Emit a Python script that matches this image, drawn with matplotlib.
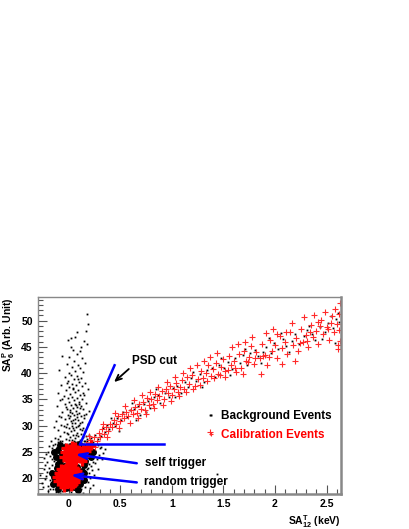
import numpy as np
import matplotlib
matplotlib.use("Agg")
import matplotlib.pyplot as plt
from matplotlib.ticker import MultipleLocator

plt.rcParams['font.family'] = ['Liberation Sans', 'DejaVu Sans']
plt.rcParams['font.weight'] = 'bold'
plt.rcParams['mathtext.fontset'] = 'custom'
plt.rcParams['mathtext.rm'] = 'Liberation Sans:bold'
plt.rcParams['mathtext.it'] = 'Liberation Sans:bold'
plt.rcParams['mathtext.bf'] = 'Liberation Sans:bold'

# background events: vertical column above the clusters
bg_col = [(0.18, 51.2), (0.19, 49.3), (0.17, 48.1), (0.08, 47.8), (0.06, 46.9), (0.02, 46.6),
          (-0.01, 46.3), (0.15, 46.2), (0.18, 45.6), (0.12, 45.0), (0.02, 45.0), (0.04, 44.5),
          (0.11, 44.2), (0.08, 43.6), (-0.06, 43.3), (0.00, 43.0), (0.13, 42.8), (0.05, 42.4),
          (0.16, 42.0), (-0.02, 41.8), (0.09, 41.6), (0.03, 41.2), (0.11, 40.9), (-0.09, 40.6),
          (0.06, 40.4), (0.14, 40.2), (0.00, 40.0),
          (0.02, 39.7), (0.08, 39.5), (-0.04, 39.2), (0.12, 39.0), (0.05, 38.8), (-0.01, 38.6),
          (0.10, 38.4), (0.16, 38.2), (0.03, 38.0), (-0.07, 37.8), (0.07, 37.7), (0.13, 37.5),
          (0.00, 37.3), (0.04, 37.1), (0.19, 37.0), (-0.03, 36.8), (0.09, 36.7), (0.06, 36.4),
          (-0.10, 36.2), (0.01, 36.1), (0.11, 35.9), (0.15, 35.8), (-0.05, 35.6), (0.03, 35.5),
          (0.08, 35.3), (-0.01, 35.2), (0.13, 35.0), (0.05, 34.9), (-0.08, 34.8), (0.10, 34.6),
          (0.00, 34.5), (0.17, 34.4), (0.06, 34.2), (-0.04, 34.1), (0.02, 33.9), (0.12, 33.8),
          (-0.11, 33.7), (0.08, 33.5), (0.04, 33.4), (-0.02, 33.2),
          (0.14, 33.1), (0.01, 33.0), (0.07, 32.8), (-0.06, 32.7), (0.10, 32.5), (0.03, 32.4),
          (0.17, 32.3), (-0.01, 32.1), (0.05, 32.0), (-0.09, 31.9), (0.12, 31.8), (0.08, 31.6),
          (0.00, 31.5), (0.15, 31.4), (-0.04, 31.3), (0.04, 31.1), (0.09, 31.0), (-0.12, 30.9),
          (0.02, 30.8), (0.13, 30.7), (0.06, 30.5), (-0.02, 30.4), (0.19, 30.3), (0.10, 30.2),
          (-0.07, 30.1), (0.03, 29.9), (0.07, 29.8), (-0.03, 29.7), (0.14, 29.6), (0.00, 29.5),
          (0.11, 29.3), (-0.10, 29.2), (0.05, 29.1), (0.16, 29.0), (0.02, 28.9), (-0.05, 28.8),
          (0.08, 28.7), (0.12, 28.5), (-0.01, 28.4), (0.20, 28.3), (0.04, 28.2), (-0.08, 28.1),
          (0.09, 28.0), (0.14, 27.9), (0.01, 27.8), (-0.13, 27.7), (0.06, 27.6), (0.18, 27.5),
          (-0.03, 27.4), (0.11, 27.3), (0.03, 27.2), (-0.06, 27.1), (0.15, 27.0), (0.08, 26.9),
          (-0.10, 26.8), (0.22, 26.7), (0.00, 26.6), (-0.15, 26.4),
          (0.07, 34.0), (-0.03, 33.6), (0.11, 33.3), (0.01, 32.6), (0.15, 32.0), (-0.07, 31.6),
          (0.06, 31.2), (0.11, 30.5), (-0.05, 30.0), (0.04, 29.6), (0.13, 29.2), (-0.02, 28.6),
          (0.07, 28.3), (0.17, 28.0), (-0.10, 27.5), (0.05, 27.0), (0.13, 26.6), (-0.04, 26.5),
          (0.09, 30.0), (0.01, 31.8), (0.10, 34.1), (-0.06, 35.0), (0.14, 36.3), (0.04, 36.9),
          (-0.02, 38.1), (0.09, 38.9), (0.20, 32.8), (-0.14, 29.8), (0.03, 30.6), (0.08, 32.2)]

# background events: sparse halo around the two clusters
bg_halo = [(-0.20, 18.5), (-0.18, 19.6), (-0.22, 20.4), (-0.17, 21.3), (-0.19, 22.0), (-0.15, 17.9),
           (-0.12, 17.4), (-0.08, 17.2), (-0.03, 17.0), (0.02, 17.3), (0.07, 17.5), (0.12, 17.9),
           (0.16, 18.4), (0.19, 19.2), (0.21, 20.0), (0.20, 21.0), (0.18, 21.8), (0.22, 22.4),
           (-0.21, 23.0), (-0.16, 23.6), (-0.24, 21.7), (-0.26, 19.1), (0.25, 20.6), (0.24, 18.8),
           (-0.10, 16.9), (0.05, 16.8), (-0.23, 22.6), (0.14, 17.1),
           (-0.18, 24.2), (-0.20, 25.0), (-0.16, 25.8), (-0.13, 26.5), (-0.08, 27.0), (0.00, 27.2),
           (0.06, 26.9), (0.12, 26.6), (0.18, 26.2), (0.22, 25.6), (0.26, 25.0), (0.29, 24.4),
           (0.27, 23.7), (0.24, 23.1), (0.30, 25.7), (0.33, 24.8), (0.20, 22.7), (-0.22, 24.6),
           (-0.14, 23.2), (0.32, 23.6), (0.28, 26.4), (-0.19, 26.1), (1.44, 20.8),
           (-0.23, 19.8), (-0.21, 21.1), (-0.18, 18.0), (-0.16, 22.6), (-0.13, 23.9), (-0.06, 17.6),
           (0.00, 17.8), (0.10, 17.4), (0.17, 19.8), (0.19, 22.0), (0.23, 21.5), (0.26, 22.9),
           (-0.25, 18.4), (-0.28, 20.6), (-0.20, 17.6), (0.21, 18.2), (-0.15, 24.9), (-0.11, 25.9),
           (0.25, 24.2), (0.23, 26.6), (0.31, 26.0), (0.35, 25.5), (-0.17, 27.1), (0.16, 27.0),
           (-0.24, 23.8), (0.28, 21.7), (-0.09, 23.0), (0.18, 22.9)]

# background events: dense cluster cores
bg_core = [(-0.13, 19.5), (-0.12, 20.8), (-0.11, 21.9), (-0.09, 18.6), (-0.07, 19.8), (-0.06, 21.2),
           (-0.05, 22.4), (-0.03, 18.1), (-0.01, 19.3), (0.00, 20.5), (0.01, 21.7), (0.03, 22.8),
           (0.05, 18.4), (0.06, 19.6), (0.07, 20.9), (0.08, 22.1), (0.11, 18.9), (0.12, 20.2),
           (0.13, 21.4), (0.15, 22.6), (0.15, 19.6), (-0.14, 20.2), (-0.10, 17.9), (0.09, 17.8),
           (-0.16, 21.0), (-0.15, 18.9), (0.15, 21.0), (-0.10, 22.7),
           (-0.12, 24.1), (-0.10, 25.3), (-0.08, 23.3), (-0.06, 24.6), (-0.04, 25.9), (-0.02, 23.7),
           (0.00, 24.9), (0.02, 26.2), (0.04, 23.2), (0.06, 24.3), (0.08, 25.5), (0.10, 23.6),
           (0.12, 24.8), (0.14, 26.0), (0.16, 23.3), (0.18, 24.5), (0.20, 25.4), (0.22, 24.0),
           (0.10, 26.5), (-0.08, 26.4), (0.24, 25.0), (-0.14, 25.0)]

# calibration events: cluster cores
cal_core = [(-0.10, 19.5), (-0.08, 20.6), (-0.07, 21.8), (-0.06, 18.9), (-0.04, 20.0), (-0.03, 21.2),
            (-0.02, 22.3), (-0.01, 19.2), (0.00, 20.4), (0.01, 21.5), (0.02, 18.5), (0.03, 19.8),
            (0.04, 20.9), (0.05, 22.0), (0.06, 19.3), (0.07, 20.3), (0.08, 21.4), (-0.05, 18.4),
            (0.00, 22.6), (0.09, 20.0), (-0.09, 21.0), (0.04, 18.9), (-0.11, 20.3), (0.06, 21.8),
            (-0.05, 24.0), (-0.04, 25.0), (-0.02, 23.4), (0.00, 24.5), (0.01, 25.6), (0.02, 23.1),
            (0.04, 24.0), (0.05, 25.1), (0.06, 26.0), (0.07, 23.5), (0.08, 24.6), (0.10, 25.4),
            (0.11, 23.9), (0.12, 24.9), (0.14, 25.8), (0.15, 24.3), (0.03, 26.1), (-0.03, 25.7),
            (0.13, 23.3), (0.17, 25.1), (0.19, 25.9), (0.22, 26.3)]

# background events along the correlation band
bg_band = [(0.16, 26.3), (0.18, 27.0), (0.20, 26.1), (0.22, 27.6), (0.24, 26.9), (0.26, 28.3),
           (0.28, 27.4), (0.31, 28.1), (0.33, 29.6), (0.35, 28.8), (0.37, 30.2), (0.39, 29.3),
           (0.43, 30.6), (0.45, 29.9), (0.47, 31.4), (0.51, 31.0), (0.53, 32.6), (0.57, 31.6),
           (0.59, 32.9), (0.63, 33.1), (0.67, 33.8), (0.69, 32.1), (0.73, 34.2), (0.77, 34.7),
           (0.79, 33.4), (0.83, 35.4), (0.87, 35.8), (0.89, 34.4), (0.93, 36.3), (0.97, 35.4),
           (1.01, 37.2), (1.05, 37.6), (1.09, 36.3), (1.13, 38.4), (1.16, 37.3), (1.19, 39.0),
           (1.23, 38.5), (1.27, 39.8), (1.31, 38.3), (1.34, 40.6), (1.39, 41.0), (1.42, 39.2),
           (1.46, 41.6), (1.51, 41.0), (1.54, 42.2), (1.58, 40.8), (1.61, 42.9), (1.66, 42.0),
           (1.69, 43.4), (1.73, 41.6), (1.76, 43.9), (1.81, 44.5), (1.84, 43.3), (1.88, 44.1),
           (1.91, 45.0), (1.96, 43.8), (1.99, 45.8), (2.03, 44.6), (2.08, 46.5), (2.11, 45.1),
           (2.16, 46.1), (2.19, 47.4), (2.23, 45.6), (2.28, 47.0), (2.31, 48.2), (2.36, 47.4),
           (2.39, 46.4), (2.44, 48.8), (2.48, 47.8), (2.51, 49.6), (2.56, 48.6), (2.59, 50.4),
           (2.62, 49.8), (2.58, 45.8), (0.49, 28.9), (0.65, 31.0), (1.37, 32.0),
           (0.41, 31.5), (0.61, 34.4), (0.75, 32.6), (0.85, 36.9), (1.03, 35.5), (1.21, 40.3),
           (1.29, 37.4), (1.48, 42.9), (1.56, 39.6), (1.71, 44.6), (1.86, 42.0), (2.06, 47.6),
           (2.14, 44.0), (2.33, 49.0), (2.46, 46.5), (2.54, 50.9), (2.61, 51.5), (1.94, 46.7)]

# calibration events along the correlation band
cal_band = [(0.14, 25.6), (0.17, 26.5), (0.19, 25.9), (0.21, 27.2), (0.23, 26.6), (0.25, 27.9),
            (0.27, 27.1), (0.29, 28.6), (0.30, 27.8), (0.32, 29.3), (0.34, 28.5), (0.36, 29.8),
            (0.38, 29.0), (0.40, 30.4), (0.42, 29.7), (0.44, 31.1), (0.46, 30.3), (0.48, 31.8),
            (0.50, 30.8), (0.52, 32.2), (0.54, 31.4), (0.56, 32.7), (0.58, 31.9), (0.60, 33.0),
            (0.62, 32.2), (0.64, 33.6), (0.66, 32.5), (0.68, 34.1), (0.70, 33.2), (0.72, 34.6),
            (0.74, 33.0), (0.76, 35.2), (0.78, 33.9), (0.80, 35.0), (0.82, 34.2), (0.84, 36.0),
            (0.86, 34.8), (0.88, 35.6), (0.90, 36.6), (0.92, 35.1), (0.94, 37.0), (0.96, 36.2),
            (0.98, 37.6), (1.00, 35.8), (1.02, 36.9), (1.04, 38.1), (1.06, 36.5), (1.08, 37.4),
            (1.10, 38.7), (1.12, 37.0), (1.15, 39.2), (1.17, 38.0), (1.20, 39.6), (1.22, 37.6),
            (1.25, 38.8), (1.28, 40.4), (1.30, 39.1), (1.33, 40.0), (1.35, 41.5), (1.38, 39.4),
            (1.40, 40.8), (1.43, 42.0), (1.45, 39.8), (1.48, 41.2), (1.50, 42.6), (1.52, 40.5),
            (1.55, 43.2), (1.57, 41.6), (1.60, 42.3), (1.62, 40.2), (1.65, 43.7), (1.67, 41.0),
            (1.70, 44.3), (1.72, 42.4), (1.75, 43.0), (1.77, 45.2), (1.80, 41.8), (1.82, 44.0),
            (1.85, 42.9), (1.87, 45.6), (1.90, 43.5), (1.92, 41.5), (1.95, 46.4), (1.97, 44.2),
            (2.00, 45.3), (2.02, 42.8), (2.05, 47.1), (2.07, 44.8), (2.10, 46.0), (2.12, 43.6),
            (2.15, 47.8), (2.17, 45.4), (2.20, 46.6), (2.22, 44.3), (2.25, 48.5), (2.27, 46.0),
            (2.30, 47.3), (2.32, 45.0), (2.35, 49.2), (2.37, 46.8), (2.40, 48.0), (2.42, 45.6),
            (2.45, 50.1), (2.47, 47.5), (2.50, 48.7), (2.52, 46.3), (2.55, 50.8), (2.57, 47.9),
            (2.60, 49.4), (2.61, 45.4), (2.62, 51.3), (2.63, 53.4), (2.63, 46.2), (2.62, 48.3),
            (1.37, 28.8),
            (0.20, 28.0), (0.26, 25.9), (0.33, 30.4), (0.37, 27.9), (0.45, 32.5), (0.49, 29.6),
            (0.55, 33.8), (0.59, 30.6), (0.63, 34.9), (0.67, 31.4), (0.71, 35.8), (0.75, 32.2),
            (0.79, 36.4), (0.83, 33.3), (0.87, 37.4), (0.91, 34.0), (0.95, 38.4), (0.99, 34.7),
            (1.03, 39.3), (1.07, 35.6), (1.11, 40.0), (1.14, 36.4), (1.18, 40.9), (1.21, 37.0),
            (1.24, 41.6), (1.27, 37.8), (1.31, 42.4), (1.34, 38.5), (1.37, 43.1), (1.41, 39.0),
            (1.44, 43.9), (1.47, 39.7), (1.52, 39.2), (1.54, 40.6), (1.58, 45.0), (1.61, 41.0),
            (1.64, 45.6), (1.69, 39.8), (1.71, 46.0), (1.74, 42.2), (1.78, 46.8), (1.81, 42.9),
            (1.86, 39.8), (1.88, 43.2), (1.91, 47.6), (1.94, 43.0), (1.98, 48.4), (2.02, 47.4),
            (2.07, 41.7), (2.11, 47.8), (2.16, 49.5), (2.19, 42.4), (2.24, 45.8), (2.28, 50.6),
            (2.31, 46.1), (2.34, 47.9), (2.38, 51.0), (2.42, 49.7), (2.44, 49.0), (2.48, 51.6),
            (2.51, 48.4), (2.54, 49.5), (2.58, 52.3), (2.61, 44.6)]

xticks = [0, 0.5, 1, 1.5, 2, 2.5]
xtick_labels = ['0', '0.5', '1', '1.5', '2', '2.5']
yticks = [20, 25, 30, 35, 40, 45, 50]


def xy(pts):
    a = np.array(pts)
    return a[:, 0], a[:, 1]


fig = plt.figure(figsize=(4.09, 5.29), dpi=100)
ax = fig.add_axes([0.0922, 0.0662, 0.7416, 0.3724])

bx, by = xy(bg_col + bg_halo + bg_band)
ax.plot(bx, by, ls='none', marker='s', ms=1.3, mec='none', color='black', label='Background Events')
cx, cy = xy(bg_core)
ax.plot(cx, cy, ls='none', marker='o', ms=5, mec='none', color='black')
rx, ry = xy(cal_band)
ax.plot(rx, ry, ls='none', marker='+', ms=3.8, mew=0.8, color='#ff2a2a', label='Calibration Events')
rcx, rcy = xy(cal_core)
ax.plot(rcx, rcy, ls='none', marker='+', ms=7, mew=2.4, color='red')

# PSD cut lines
ax.plot([0.11, 0.445], [26.45, 41.5], color='blue', lw=1.8)
ax.plot([0.11, 0.92], [26.45, 26.45], color='blue', lw=1.8)

ax.annotate('PSD cut', xy=(0.44, 38.3), xytext=(0.61, 42.4), fontsize=8.5, fontweight='bold',
            va='center', ha='left',
            arrowprops=dict(arrowstyle='->,head_length=0.5,head_width=0.22', color='black', lw=1.3,
                            shrinkA=0, shrinkB=0, relpos=(0.0, 0.0)))
ax.annotate('', xy=(0.065, 24.55), xytext=(0.66, 22.85),
            arrowprops=dict(arrowstyle='->,head_length=0.6,head_width=0.2', color='blue', lw=1.8,
                            shrinkA=0, shrinkB=0))
ax.text(0.74, 22.85, 'self trigger', fontsize=8.5, fontweight='bold', va='center', ha='left')
ax.annotate('', xy=(0.02, 20.6), xytext=(0.66, 19.2),
            arrowprops=dict(arrowstyle='->,head_length=0.6,head_width=0.2', color='blue', lw=1.8,
                            shrinkA=0, shrinkB=0))
ax.text(0.73, 19.3, 'random trigger', fontsize=8.5, fontweight='bold', va='center', ha='left')

leg = ax.legend(loc='upper left', bbox_to_anchor=(0.555, 0.425), frameon=False, fontsize=8.5,
                handlelength=0.8, handletextpad=0.5, labelspacing=0.6, borderpad=0,
                borderaxespad=0, labelcolor=['black', 'red'])
leg.legend_handles[0].set_markersize(1.5)
leg.legend_handles[1].set_markersize(2.5)

ax.set_xlim(-0.3, 2.64)
ax.set_ylim(17.0, 54.5)
ax.set_xticks(xticks)
ax.set_xticklabels(xtick_labels)
ax.set_yticks(yticks)
ax.xaxis.set_minor_locator(MultipleLocator(0.1))
ax.yaxis.set_minor_locator(MultipleLocator(1))
ax.tick_params(which='both', direction='in', top=False, right=False, labelsize=7.5, color='#555555')
ax.tick_params(which='major', length=6.5, width=0.8)
ax.tick_params(which='minor', length=3.5, width=0.8)
for lab in ax.get_xticklabels() + ax.get_yticklabels():
    lab.set_fontweight('bold')

ax.set_ylabel(r'SA$_{6}^{P}$ (Arb. Unit)', loc='top', fontsize=7.5, fontweight='bold')
ax.yaxis.set_label_coords(-0.068, 1.0)
ax.set_xlabel(r'SA$_{12}^{T}$ (keV)', loc='right', fontsize=7.5, fontweight='bold', labelpad=3)

for s in ax.spines.values():
    s.set_color('#888888')
    s.set_linewidth(1.0)
ax.spines['right'].set_linewidth(1.8)
ax.spines['bottom'].set_linewidth(1.8)

fig.savefig('out.png', dpi=100)
